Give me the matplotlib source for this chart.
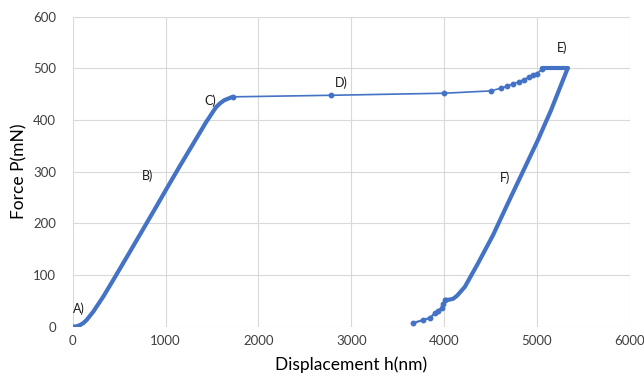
import matplotlib
matplotlib.use("Agg")
import matplotlib.pyplot as plt

# Loading curve (dense data -> thick line)
load_x = [0, 40, 78, 115, 150, 221, 328, 435, 596, 739, 882, 1007, 1150, 1293, 1436, 1543, 1590, 1632, 1680, 1721]
load_y = [0, 0.5, 3, 7, 13, 29, 58, 90, 139, 183, 227, 266, 310, 353, 396, 425, 433, 438.5, 442, 445]

# Plateau / creep (sparse markers)
plat_x = [1721, 2776, 4002, 4502, 4615, 4680, 4740, 4802, 4859, 4912, 4962, 5001, 5055]
plat_y = [445, 448, 452, 456.5, 462, 466, 470, 474, 478.5, 483, 487, 490, 499]

# Hold at max load (dense)
hold_x = [5055, 5330]
hold_y = [500, 500]

# Unloading (dense)
unload_x = [5330, 5258, 5151, 5009, 4848, 4687, 4526, 4366, 4223, 4140, 4098, 4050, 4009]
unload_y = [500, 467.5, 419, 361, 300, 239, 177, 123, 77, 60, 54, 52, 52]

# Tail (sparse markers)
tail_x = [4009, 3990, 3972, 3937, 3901, 3848, 3776, 3669]
tail_y = [52, 44, 36, 31, 26, 17, 13, 7]

labels = ["A)", "B)", "C)", "D)", "E)", "F)"]
label_x = [71, 804, 1482, 2894, 5269, 4652]
label_y = [34, 292, 437, 472, 541, 289]

color = "#4472C4"
plt.rcParams['font.family'] = ['Lato', 'DejaVu Sans']

fig = plt.figure(figsize=(6.44, 3.82), dpi=100)
ax = fig.add_axes([0.113, 0.145, 0.865, 0.811])

ax.plot(load_x, load_y, color=color, lw=3.0, solid_capstyle='round', solid_joinstyle='round')
ax.plot(plat_x, plat_y, color=color, lw=1.2, marker='o', ms=3.2)
ax.plot(hold_x, hold_y, color=color, lw=3.0, solid_capstyle='round')
ax.plot(unload_x, unload_y, color=color, lw=3.0, solid_capstyle='round', solid_joinstyle='round')
ax.plot(tail_x, tail_y, color=color, lw=1.6, marker='o', ms=3.2)

for t, x, y in zip(labels, label_x, label_y):
    ax.text(x, y, t, fontsize=9, ha='center', va='center', color='#1a1a1a')

ax.set_xlim(0, 6000)
ax.set_ylim(0, 600)
ax.set_xticks(range(0, 6001, 1000))
ax.set_yticks(range(0, 601, 100))
ax.grid(True, color='#D9D9D9', lw=0.8)
ax.set_axisbelow(True)
for s in ax.spines.values():
    s.set_visible(False)
ax.tick_params(length=0, labelsize=9.5, colors='#404040', pad=6)
ax.tick_params(axis='y', pad=12)
ax.set_xlabel("Displacement h(nm)", fontsize=12.5, labelpad=7)
ax.set_ylabel("Force P(mN)", fontsize=12.5, labelpad=4)

fig.savefig("out.png", dpi=100)
